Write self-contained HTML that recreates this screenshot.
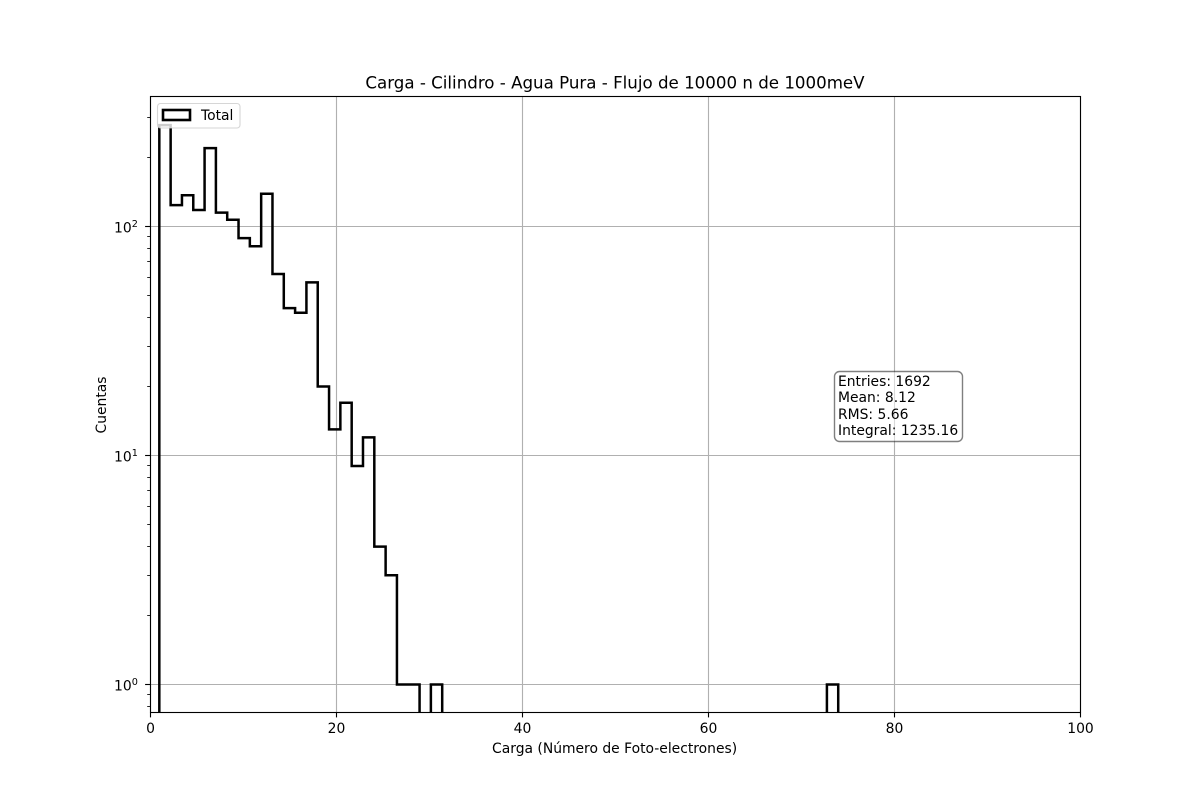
<!DOCTYPE html>
<html>
<head>
<meta charset="utf-8">
<style>
html,body{margin:0;padding:0;background:#fff;}
svg{display:block;font-family:"DejaVu Sans","Liberation Sans",sans-serif;}
text{fill:#000;}
</style>
</head>
<body>
<svg id="chart" xmlns="http://www.w3.org/2000/svg" width="1200" height="800" viewBox="0 0 1200 800">
  <rect x="0" y="0" width="1200" height="800" fill="#fff"/>
  <g id="grid"></g>
  <g id="stats">
    <rect x="834.5" y="371.5" width="128" height="70" rx="5" ry="5" fill="#fff" fill-opacity="0.5" stroke="#000" stroke-opacity="0.5" stroke-width="1.4"/>
    <text x="838" y="386" font-size="13.89">Entries: 1692</text>
    <text x="838" y="402" font-size="13.89">Mean: 8.12</text>
    <text x="838" y="419" font-size="13.89">RMS: 5.66</text>
    <text x="838" y="435" font-size="13.89">Integral: 1235.16</text>
  </g>
  <defs><clipPath id="plot-clip"><rect x="150" y="96" width="930" height="616.5"/></clipPath></defs>
  <g id="hist" clip-path="url(#plot-clip)"></g>
  <g id="ticks"></g>
  <rect x="150.5" y="96.5" width="930" height="616" fill="none" stroke="#000" stroke-width="1.11"/>
  <g>
    <rect x="157.5" y="103.5" width="82.5" height="24.5" rx="3" ry="3" fill="#fff" fill-opacity="0.8" stroke="#ccc" stroke-opacity="0.8" stroke-width="1.11"/>
    <rect x="163" y="110" width="27" height="10" fill="none" stroke="#000" stroke-width="2.6"/>
    <text x="201" y="120" font-size="13.89">Total</text>
  </g>
  <text x="615" y="88.5" font-size="16.67" text-anchor="middle">Carga - Cilindro - Agua Pura - Flujo de 10000 n de 1000meV</text>
  <text x="614.6" y="753" font-size="13.89" text-anchor="middle">Carga (Número de Foto-electrones)</text>
  <text transform="translate(106,405) rotate(-90)" font-size="13.89" text-anchor="middle">Cuentas</text>
</svg>
<script>
const binStart = 0.97;
const binEnd = 73.97;
const counts = [277,124,137,118,220,115,107,89,82,139,62,44,42,57,20,13,17,9,12,4,3,1,1,0,1,0,0,0,0,0,0,0,0,0,0,0,0,0,0,0,0,0,0,0,0,0,0,0,0,0,0,0,0,0,0,0,0,0,0,1];
const xTickValues = [0,20,40,60,80,100];
const yTickExponents = [0,1,2];
const yMinorValues = [0.8,0.9,2,3,4,5,6,7,8,9,20,30,40,50,60,70,80,90,200,300];

const NS = 'http://www.w3.org/2000/svg';
function xScale(v){ return 150.3 + 9.3 * v; }
function yScale(v){ return 684.5 - 229 * Math.log10(v); }
function add(parent, tag, attrs){
  const el = document.createElementNS(NS, tag);
  for (const k in attrs) el.setAttribute(k, attrs[k]);
  parent.appendChild(el);
  return el;
}
const grid = document.getElementById('grid');
const ticks = document.getElementById('ticks');
const hist = document.getElementById('hist');

xTickValues.forEach(function(v){
  const x = Math.round(xScale(v) - 0.3) + 0.5;
  const g = add(grid, 'line', {x1:x, x2:x, y1:96, y2:712.5, stroke:'#b0b0b0', 'stroke-width':1.11});
  
  
  const t = add(ticks, 'line', {x1:x, x2:x, y1:712.5, y2:717.4, stroke:'#000', 'stroke-width':1.11});
  
  
  const l = add(ticks, 'text', {x:x, y:733, 'font-size':13.89, 'text-anchor':'middle'});
  l.textContent = String(v);
  
  
});

yTickExponents.forEach(function(e){
  const y = Math.round(yScale(Math.pow(10, e)) - 0.5) + 0.5;
  const g = add(grid, 'line', {x1:150, x2:1080, y1:y, y2:y, stroke:'#b0b0b0', 'stroke-width':1.11});
  
  
  const t = add(ticks, 'line', {x1:145.1, x2:150, y1:y, y2:y, stroke:'#000', 'stroke-width':1.11});
  
  
  const l = add(ticks, 'text', {x:114, y:y + 6, 'font-size':13.89});
  l.textContent = '10';
  
  
  const s = add(ticks, 'text', {x:131.8, y:y + 0.5, 'font-size':9.7});
  s.textContent = String(e);
  
  
});

yMinorValues.forEach(function(v){
  const y = Math.round(yScale(v) - 0.5) + 0.5;
  const t = add(ticks, 'line', {x1:147.2, x2:150, y1:y, y2:y, stroke:'#000', 'stroke-width':0.85});
  
  
});

const binWidth = (binEnd - binStart) / counts.length;
const floorY = 730;
let d = '';
let inRun = false;
counts.forEach(function(c, i){
  const x0 = xScale(binStart + i * binWidth).toFixed(2);
  const x1 = xScale(binStart + (i + 1) * binWidth).toFixed(2);
  if (c > 0) {
    const y = yScale(c).toFixed(2);
    if (!inRun) { d += 'M' + x0 + ' ' + floorY + ' '; inRun = true; }
    d += 'L' + x0 + ' ' + y + ' L' + x1 + ' ' + y + ' ';
  } else if (inRun) {
    d += 'L' + x0 + ' ' + floorY + ' ';
    inRun = false;
  }
  if (i === counts.length - 1 && inRun) {
    d += 'L' + x1 + ' ' + floorY + ' ';
  }
});
const histPath = add(hist, 'path', {d:d, fill:'none', stroke:'#000', 'stroke-width':2.5, 'stroke-linejoin':'miter'});


</script>
</body>
</html>
